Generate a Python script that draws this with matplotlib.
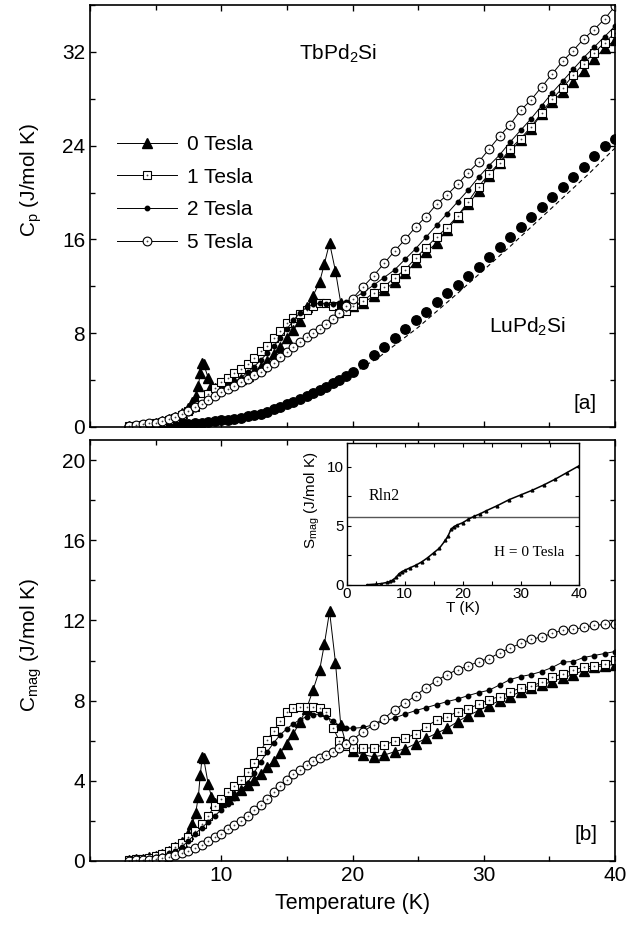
import numpy as np
import matplotlib.pyplot as plt
from matplotlib.ticker import MultipleLocator

plt.rcParams['font.family'] = ['Liberation Sans', 'DejaVu Sans']
plt.rcParams['mathtext.default'] = 'regular'

# temperature grid shared by the 1, 2, 5 Tesla and LuPd2Si data (K)
T = [3.0, 3.5, 4.0, 4.5, 5.0, 5.5, 6.0, 6.5, 7.0, 7.5, 8.0, 8.5, 9.0, 9.5, 10.0,
     10.5, 11.0, 11.5, 12.0, 12.5, 13.0, 13.5, 14.0, 14.5, 15.0, 15.5, 16.0, 16.5,
     17.0, 17.5, 18.0, 18.5, 19.0, 19.5, 20.0,
     20.8, 21.6, 22.4, 23.2, 24.0, 24.8, 25.6, 26.4, 27.2, 28.0, 28.8, 29.6, 30.4,
     31.2, 32.0, 32.8, 33.6, 34.4, 35.2, 36.0, 36.8, 37.6, 38.4, 39.2, 40.0]

# zero field has extra points around the two transitions
T0 = [3.0, 3.5, 4.0, 4.5, 5.0, 5.5, 6.0, 6.5, 7.0, 7.5,
      7.8, 8.05, 8.25, 8.4, 8.55, 8.65, 9.0, 9.25, 9.5,
      10.0, 10.5, 11.0, 11.5, 12.0, 12.5, 13.0, 13.5, 14.0, 14.5, 15.0, 15.5, 16.0,
      16.5, 17.0, 17.5, 17.85, 18.25, 18.7, 19.1, 19.5, 20.0,
      20.8, 21.6, 22.4, 23.2, 24.0, 24.8, 25.6, 26.4, 27.2, 28.0, 28.8, 29.6, 30.4,
      31.2, 32.0, 32.8, 33.6, 34.4, 35.2, 36.0, 36.8, 37.6, 38.4, 39.2, 40.0]

# ---- panel [a]: Cp (J/mol K)
cp_0T = [0.07, 0.12, 0.17, 0.25, 0.35, 0.48, 0.65, 0.87, 1.15, 1.6,
         2.1, 2.65, 3.5, 4.6, 5.45, 5.4, 4.2, 3.5, 3.35,
         3.5, 3.7, 3.9, 4.1, 4.35, 4.75, 5.15, 5.65, 6.2, 6.85, 7.55, 8.3, 9.05,
         10.2, 11.2, 12.4, 13.9, 15.7, 13.3, 10.6, 10.35, 10.3,
         10.6, 11.15, 11.7, 12.35, 13.1, 14.05, 14.9, 15.7, 16.8, 17.95, 19.0, 20.1, 21.4,
         22.5, 23.5, 24.45, 25.45, 26.7, 27.75, 28.55, 29.4, 30.4, 31.4, 32.3, 33.0]
cp_1T = [0.07, 0.11, 0.16, 0.23, 0.32, 0.44, 0.6, 0.8, 1.05, 1.35, 1.7, 2.2, 2.8, 3.35, 3.8,
         4.2, 4.6, 4.95, 5.35, 5.9, 6.45, 6.95, 7.55, 8.2, 8.85, 9.3, 9.65, 10.0,
         10.3, 10.55, 10.55, 10.3, 9.75, 9.9, 10.3,
         10.75, 11.45, 11.95, 12.75, 13.4, 14.4, 15.3, 16.2, 17.0, 18.0, 19.2, 20.5, 21.6,
         22.55, 23.7, 24.6, 25.6, 26.8, 28.0, 28.9, 30.0, 31.0, 31.9, 32.8, 33.6]
cp_2T = [0.06, 0.09, 0.13, 0.19, 0.27, 0.37, 0.5, 0.68, 0.9, 1.18, 1.5, 1.85, 2.25, 2.65, 3.05,
         3.45, 3.8, 4.2, 4.65, 5.15, 5.7, 6.3, 6.9, 7.6, 8.35, 9.1, 9.75, 10.2,
         10.45, 10.55, 10.5, 10.45, 10.55, 10.7, 10.95,
         11.45, 12.1, 12.75, 13.4, 14.3, 15.2, 16.2, 17.2, 18.2, 19.2, 20.2, 21.3, 22.3,
         23.2, 24.3, 25.3, 26.3, 27.4, 28.5, 29.5, 30.5, 31.5, 32.4, 33.3, 34.2]
cp_5T = [0.12, 0.16, 0.22, 0.3, 0.38, 0.5, 0.66, 0.87, 1.12, 1.4, 1.68, 1.98, 2.3, 2.65, 2.95,
         3.25, 3.5, 3.8, 4.1, 4.4, 4.72, 5.1, 5.5, 5.95, 6.4, 6.85, 7.25, 7.65,
         8.0, 8.4, 8.8, 9.2, 9.7, 10.35, 10.95,
         11.95, 12.9, 13.95, 15.0, 16.0, 17.05, 17.95, 19.0, 19.8, 20.7, 21.7, 22.6, 23.7,
         24.8, 25.8, 27.0, 27.9, 29.0, 30.1, 31.2, 32.1, 33.1, 33.9, 34.8, 35.9]
cp_lu = [0.02, 0.03, 0.05, 0.07, 0.09, 0.12, 0.15, 0.19, 0.23, 0.27, 0.31, 0.36, 0.42, 0.49, 0.56,
         0.63, 0.71, 0.8, 0.9, 1.0, 1.12, 1.3, 1.5, 1.72, 1.95, 2.17, 2.4, 2.65,
         2.9, 3.17, 3.45, 3.73, 4.02, 4.35, 4.7,
         5.4, 6.1, 6.85, 7.6, 8.35, 9.1, 9.85, 10.65, 11.4, 12.1, 12.9, 13.65, 14.5,
         15.35, 16.2, 17.05, 17.9, 18.75, 19.6, 20.5, 21.3, 22.2, 23.1, 23.95, 24.6]
# dashed curve under the LuPd2Si data
T_fit = [3, 6, 10, 14, 18, 20, 22, 25, 28, 30, 32, 35, 38, 40]
cp_fit = [0.01, 0.12, 0.5, 1.4, 3.3, 4.55, 5.95, 8.5, 11.4, 13.4, 15.4, 18.5, 21.6, 23.8]

# ---- panel [b]: Cmag (J/mol K)
cmag_0T = [0.05, 0.08, 0.12, 0.18, 0.26, 0.36, 0.5, 0.7, 0.95, 1.35,
           1.85, 2.4, 3.2, 4.3, 5.2, 5.15, 3.85, 3.2, 2.9,
           2.95, 3.1, 3.3, 3.55, 3.8, 4.05, 4.35, 4.7, 5.0, 5.4, 5.85, 6.35, 6.95,
           7.6, 8.55, 9.55, 10.8, 12.45, 9.9, 6.8, 5.85, 5.5,
           5.3, 5.2, 5.28, 5.45, 5.6, 5.85, 6.12, 6.37, 6.62, 6.95, 7.25, 7.5, 7.75,
           8.0, 8.2, 8.45, 8.65, 8.78, 8.95, 9.13, 9.3, 9.5, 9.68, 9.74, 9.8]
cmag_1T = [0.05, 0.08, 0.12, 0.17, 0.25, 0.35, 0.5, 0.68, 0.9, 1.2, 1.5, 1.85, 2.25, 2.75, 3.1,
           3.45, 3.75, 4.05, 4.45, 4.9, 5.5, 6.05, 6.5, 6.98, 7.42, 7.62, 7.68, 7.7,
           7.7, 7.65, 7.42, 6.65, 6.0, 5.75, 5.65,
           5.62, 5.65, 5.8, 5.97, 6.12, 6.35, 6.7, 7.03, 7.2, 7.45, 7.6, 7.82, 8.05,
           8.2, 8.44, 8.62, 8.72, 8.92, 9.16, 9.34, 9.52, 9.67, 9.73, 9.85, 10.05]
cmag_2T = [0.04, 0.06, 0.09, 0.13, 0.19, 0.27, 0.38, 0.52, 0.72, 1.0, 1.35, 1.65, 1.95, 2.25, 2.55,
           2.85, 3.15, 3.5, 3.9, 4.4, 4.95, 5.45, 5.9, 6.3, 6.6, 6.85, 7.05, 7.2,
           7.3, 7.33, 7.2, 7.0, 6.75, 6.63, 6.62,
           6.66, 6.8, 6.97, 7.13, 7.33, 7.5, 7.65, 7.8, 7.95, 8.08, 8.25, 8.4, 8.52,
           8.78, 9.05, 9.2, 9.3, 9.45, 9.65, 9.92, 9.95, 10.15, 10.25, 10.35, 10.45]
cmag_5T = [0.02, 0.03, 0.05, 0.07, 0.1, 0.14, 0.2, 0.28, 0.38, 0.5, 0.65, 0.82, 1.0, 1.18, 1.35,
           1.58, 1.78, 2.0, 2.25, 2.52, 2.8, 3.1, 3.42, 3.75, 4.05, 4.32, 4.56, 4.78,
           4.97, 5.13, 5.28, 5.45, 5.63, 5.82, 6.05,
           6.45, 6.8, 7.1, 7.55, 7.88, 8.25, 8.65, 9.0, 9.3, 9.55, 9.72, 9.95, 10.1,
           10.38, 10.62, 10.85, 11.05, 11.18, 11.35, 11.52, 11.55, 11.65, 11.75, 11.8, 11.82]

# ---- inset: magnetic entropy at H = 0
T_s = [3.5, 5, 6, 7, 7.5, 8, 8.5, 9, 9.5, 10, 11, 12, 13, 14, 15, 16, 17, 17.5, 18,
       18.5, 19, 20, 21, 22, 23, 24, 26, 28, 30, 32, 34, 36, 38, 40]
s_mag = [0.0, 0.05, 0.1, 0.2, 0.28, 0.42, 0.62, 0.92, 1.1, 1.22, 1.45, 1.67, 1.95, 2.3,
         2.7, 3.1, 3.75, 4.15, 4.7, 4.92, 5.05, 5.25, 5.55, 5.8, 6.0, 6.25, 6.7, 7.2,
         7.6, 8.0, 8.45, 8.95, 9.5, 10.05]
rln2 = 5.76

labels = ['0 Tesla', '1 Tesla', '2 Tesla', '5 Tesla']

FS = 15
FS_IN = 11


def style_axes(ax, ymajor, yminor, fs=FS, lw=1.2, tl=4.5):
    ax.xaxis.set_major_locator(MultipleLocator(10))
    ax.xaxis.set_minor_locator(MultipleLocator(5))
    ax.yaxis.set_major_locator(MultipleLocator(ymajor))
    ax.yaxis.set_minor_locator(MultipleLocator(yminor))
    ax.tick_params(which='both', direction='in', top=True, right=True,
                   labelsize=fs, width=lw * 0.8)
    ax.tick_params(which='major', length=tl)
    ax.tick_params(which='minor', length=tl * 0.85)
    for s in ax.spines.values():
        s.set_linewidth(lw)


def draw_series(ax, x, y, kind):
    # returns a handle for the legend
    if kind == 0:
        h, = ax.plot(x, y, color='k', lw=0.7, marker='^', ms=6.5, mfc='k', mec='k')
        return h
    if kind == 1:
        h, = ax.plot(x, y, color='k', lw=0.7, marker='s', ms=5.5, mfc='white',
                     mec='k', mew=0.8)
        d, = ax.plot(x, y, ls='none', marker='o', ms=1.3, mfc='#444444', mec='none')
        return (h, d)
    if kind == 2:
        h, = ax.plot(x, y, color='k', lw=0.7, marker='o', ms=3.2, mfc='k', mec='k')
        return h
    h, = ax.plot(x, y, color='k', lw=0.7, marker='o', ms=6.3, mfc='white',
                 mec='k', mew=0.8)
    d, = ax.plot(x, y, ls='none', marker='o', ms=1.3, mfc='#444444', mec='none')
    return (h, d)


fig = plt.figure(figsize=(6.26, 9.25), dpi=100)
ax1 = fig.add_axes([0.1438, 0.5384, 0.8387, 0.4562])
ax2 = fig.add_axes([0.1438, 0.0692, 0.8387, 0.4551])
axin = fig.add_axes([0.5538, 0.3679, 0.3706, 0.1532])

# panel [a]
ax1.plot(T_fit, cp_fit, 'k--', lw=0.8, dashes=(4, 3))
ax1.plot(T, cp_lu, ls='none', marker='o', ms=6.8, mfc='k', mec='k')
handles = []
for xs, ys, k in [(T0, cp_0T, 0), (T, cp_1T, 1), (T, cp_2T, 2), (T, cp_5T, 3)]:
    handles.append(draw_series(ax1, xs, ys, k))
ax1.set_xlim(0, 40)
ax1.set_ylim(0, 36)
style_axes(ax1, 8, 4)
ax1.set_xticklabels([])
ax1.set_ylabel('C$_p$ (J/mol K)', fontsize=FS)
ax1.yaxis.set_label_coords(-0.088, 0.585)
ax1.text(18.9, 31.8, 'TbPd$_2$Si', fontsize=FS, ha='center', va='center')
ax1.text(33.3, 8.5, 'LuPd$_2$Si', fontsize=FS, ha='center', va='center')
ax1.text(38.6, 2.0, '[a]', fontsize=FS, ha='right', va='center')
ax1.legend(handles, labels, loc='upper left', bbox_to_anchor=(0.035, 0.712),
           frameon=False, fontsize=FS, handlelength=2.9, handletextpad=0.45,
           labelspacing=0.66, numpoints=1, borderaxespad=0)

# panel [b]
for xs, ys, k in [(T0, cmag_0T, 0), (T, cmag_1T, 1), (T, cmag_2T, 2), (T, cmag_5T, 3)]:
    draw_series(ax2, xs, ys, k)
ax2.set_xlim(0, 40)
ax2.set_ylim(0, 21)
style_axes(ax2, 4, 2)
ax2.set_xticks([10, 20, 30, 40])
ax2.set_xlabel('Temperature (K)', fontsize=FS + 0.5, labelpad=6)
ax2.set_ylabel('C$_{mag}$ (J/mol K)', fontsize=FS)
ax2.yaxis.set_label_coords(-0.088, 0.513)
ax2.text(38.7, 1.3, '[b]', fontsize=FS, ha='right', va='center')

# inset
axin.axhline(rln2, color='#555555', lw=1.0)
axin.plot(T_s, s_mag, color='k', lw=1.1, marker='^', ms=2, mfc='k', mec='k')
axin.set_xlim(0, 40)
axin.set_ylim(0, 12)
style_axes(axin, 5, 2.5, fs=FS_IN, lw=1.0, tl=3)
axin.tick_params(pad=2)
axin.set_xlabel('T (K)', fontsize=FS_IN, labelpad=0)
axin.set_ylabel('S$_{mag}$ (J/mol K)', fontsize=FS_IN)
axin.yaxis.set_label_coords(-0.105, 0.6)
axin.text(3.7, 7.5, 'Rln2', fontsize=11.5, family='Liberation Serif', ha='left', va='center')
axin.text(37.6, 2.7, 'H = 0 Tesla', fontsize=11, family='Liberation Serif',
          ha='right', va='center')

fig.savefig('out.png', dpi=100)
